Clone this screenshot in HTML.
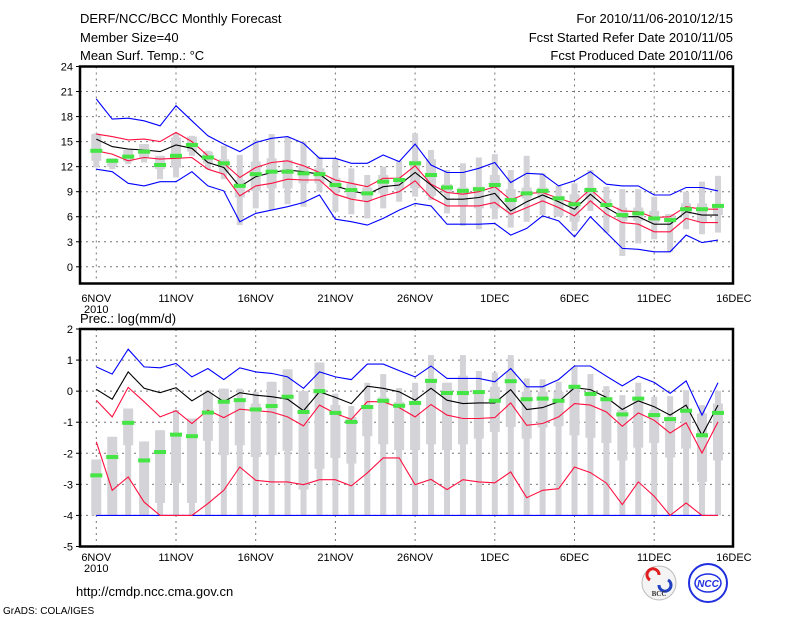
<!DOCTYPE html>
<html><head><meta charset="utf-8"><style>
body{margin:0;background:#fff;}
svg{display:block;font-family:"Liberation Sans",sans-serif;}
</style></head><body>
<svg id="chart" width="800" height="618" viewBox="0 0 800 618" xmlns="http://www.w3.org/2000/svg">
<rect width="800" height="618" fill="#fff"/>
<g font-size="13" fill="#000">
<text x="80" y="23">DERF/NCC/BCC Monthly Forecast</text>
<text x="80" y="42">Member Size=40</text>
<text x="80" y="60">Mean Surf. Temp.: °C</text>
<text x="733" y="23" text-anchor="end">For 2010/11/06-2010/12/15</text>
<text x="733" y="42" text-anchor="end">Fcst Started Refer Date 2010/11/05</text>
<text x="733" y="60" text-anchor="end">Fcst Produced Date 2010/11/06</text>
<text x="80" y="323">Prec.: log(mm/d)</text>
<text x="76" y="596">http://cmdp.ncc.cma.gov.cn</text>
<text x="3" y="614" font-size="10">GrADS: COLA/IGES</text>
</g>
<g id="top"></g>
<g id="bot"></g>
<g>
<circle cx="659" cy="583" r="17" fill="#f4f4f4" stroke="#bbb"/>
<path d="M650 580 a6 6 0 1 1 9 -5" fill="none" stroke="#e02020" stroke-width="3"/>
<path d="M668 580 a6 6 0 1 1 -9 5" fill="none" stroke="#2040c0" stroke-width="3"/>
<text x="659" y="596" font-size="7" text-anchor="middle" font-family="Liberation Serif" font-weight="bold" fill="#333">BCC</text>
</g>
<g>
<circle cx="708" cy="583" r="19" fill="#fff" stroke="#2030e0" stroke-width="2"/>
<ellipse cx="708" cy="583" rx="13" ry="9" fill="none" stroke="#2030e0" stroke-width="1.5"/>
<text x="708" y="587" font-size="10" text-anchor="middle" font-style="italic" font-weight="bold" fill="#2030e0">NCC</text>
</g>
</svg>
<script>
// ---- temperature data (day 0 = 6NOV) ----
const tBlueMax=[20.1,17.7,17.8,17.5,16.9,19.3,17.5,15.7,14.7,13.8,14.9,15.4,15.6,14.8,13.0,13.0,12.4,12.4,13.4,12.6,14.7,12.2,11.3,11.3,11.8,12.5,10.1,11.2,11.1,9.7,10.3,11.4,9.9,9.7,9.7,8.6,8.6,9.5,9.5,9.1];
const tBlueMin=[11.7,11.4,10.0,9.7,10.2,10.2,11.4,9.7,9.1,5.4,6.4,6.8,7.2,7.7,8.6,5.7,5.4,5.0,5.8,6.8,7.6,7.3,5.1,5.1,5.1,5.2,3.8,4.6,6.1,5.5,3.6,6.0,4.1,2.2,2.1,1.8,1.8,3.8,2.9,3.2];
const tRedUp=[15.9,15.6,15.2,15.3,15.0,16.1,15.0,13.3,12.4,10.7,11.9,12.5,12.7,12.1,11.3,10.4,10.0,9.6,10.6,10.6,12.1,9.9,8.9,8.7,9.0,9.6,8.0,8.8,8.9,8.2,7.6,9.3,7.6,6.7,6.6,5.9,6.0,7.2,6.9,6.9];
const tRedLo=[13.9,13.5,12.7,13.1,12.9,13.0,13.1,11.7,11.1,8.5,9.7,10.0,10.5,10.4,10.4,8.7,8.1,7.8,8.5,9.0,10.3,8.3,7.3,7.3,7.3,7.7,6.3,7.1,7.9,7.1,6.1,7.9,6.3,5.3,5.1,4.2,4.2,5.8,5.3,5.3];
const tMean=[15.3,14.4,14.1,14.0,13.8,14.6,14.2,12.5,11.9,9.6,10.8,11.3,11.6,11.4,11.1,9.7,9.1,8.7,9.6,9.8,11.3,9.8,8.1,8.1,8.3,8.8,6.7,7.8,8.6,7.8,6.9,8.7,7.1,6.0,6.0,5.1,5.1,6.6,6.2,6.2];
const tGreen=[13.9,12.7,13.2,13.8,12.2,13.3,14.6,13.1,12.4,9.7,11.1,11.4,11.4,11.2,11.1,9.8,9.2,8.8,10.2,10.4,12.4,11.0,9.5,9.1,9.3,9.8,8.0,8.8,9.1,8.2,7.5,9.2,7.4,6.2,6.4,5.8,5.6,6.9,6.9,7.3];
const tBoxLo=[11.9,11.7,12.3,12.5,10.5,10.7,13.3,11.7,10.5,5.0,7.0,6.8,7.5,7.2,9.0,6.6,6.3,5.8,7.0,7.8,8.4,8.0,6.4,4.9,4.5,5.7,4.7,5.4,6.2,6.0,4.3,6.7,4.1,1.3,2.8,3.3,1.8,4.5,3.9,4.1];
const tBoxQ1=[12.7,12.0,12.6,13.0,11.7,11.9,13.8,12.4,11.3,8.3,9.1,9.4,9.4,10.0,10.0,9.0,8.2,8.0,8.8,9.2,9.4,8.5,8.8,7.3,7.0,7.0,6.5,8.2,8.2,6.1,5.4,8.1,7.3,5.5,5.5,5.3,5.3,6.3,5.3,6.2];
const tBoxQ3=[15.9,13.0,14.0,14.7,13.3,15.5,15.6,13.8,12.9,10.4,12.6,13.0,12.8,12.1,11.8,10.6,10.0,9.5,11.0,10.6,12.7,12.9,9.9,9.5,9.6,11.0,9.3,9.5,9.5,8.5,8.7,9.5,8.1,7.1,7.1,6.7,6.3,7.6,7.6,7.3];
const tBoxHi=[16.0,13.0,14.0,14.7,13.3,15.9,15.7,13.9,14.5,13.4,15.2,15.9,15.5,15.0,13.2,13.0,11.8,11.0,12.0,12.7,16.0,14.0,11.6,12.4,13.1,13.5,11.6,13.3,11.2,9.7,10.0,11.6,9.6,9.3,9.3,8.4,6.3,9.0,10.2,10.9];
const tTicks=[0,3,6,9,12,15,18,21,24];
// ---- precipitation data ----
const pBlueMax=[0.78,0.55,1.35,0.78,0.75,0.89,0.46,0.73,0.37,0.75,0.62,0.57,0.46,0.09,0.62,0.46,0.37,0.87,0.87,0.66,0.46,0.81,0.41,0.41,0.41,0.30,0.73,0.14,0.14,0.37,0.81,0.81,0.48,0.17,0.48,0.28,-0.07,0.33,-0.77,0.27];
const pBlueMin=[-4,-4,-4,-4,-4,-4,-4,-4,-4,-4,-4,-4,-4,-4,-4,-4,-4,-4,-4,-4,-4,-4,-4,-4,-4,-4,-4,-4,-4,-4,-4,-4,-4,-4,-4,-4,-4,-4,-4,-4];
const pRedUp=[-0.29,-0.83,0.12,-0.34,-0.83,-0.63,-1.04,-0.61,-0.85,-0.58,-0.63,-0.67,-0.83,-1.12,-0.45,-0.72,-0.91,-0.34,-0.34,-0.53,-0.83,-0.43,-0.77,-0.88,-0.88,-0.85,-0.38,-1.10,-1.04,-0.83,-0.40,-0.45,-0.67,-1.13,-0.70,-0.94,-1.35,-1.02,-1.99,-0.99];
const pRedLo=[-1.63,-3.19,-2.76,-3.57,-4,-4,-4,-3.62,-3.19,-2.44,-2.87,-2.92,-2.92,-3.01,-2.85,-2.85,-3.05,-2.63,-2.15,-2.15,-3.01,-2.84,-3.17,-2.85,-2.92,-2.95,-2.60,-3.43,-3.19,-3.14,-2.44,-2.62,-2.96,-3.65,-2.92,-3.38,-4,-3.60,-4,-4];
const pMean=[0.06,-0.26,0.62,0.09,-0.05,0.11,-0.31,0,-0.34,-0.05,-0.13,-0.18,-0.26,-0.63,-0.02,-0.20,-0.40,0.16,0.09,-0.02,-0.29,0.09,-0.29,-0.40,-0.38,-0.38,0.05,-0.59,-0.53,-0.34,0.11,0.05,-0.20,-0.59,-0.31,-0.50,-0.77,-0.45,-1.42,-0.45];
const pGreen=[-2.71,-2.12,-1.02,-2.23,-1.96,-1.40,-1.45,-0.69,-0.34,-0.29,-0.59,-0.48,-0.18,-0.67,0,-0.70,-0.99,-0.51,-0.31,-0.47,-0.38,0.33,-0.06,-0.06,-0.03,-0.31,0.32,-0.26,-0.24,-0.31,0.14,-0.09,-0.26,-0.75,-0.24,-0.77,-0.90,-0.63,-1.42,-0.70];
const pBoxLo=[-4,-4,-4,-4,-4,-4,-4,-4,-4,-4,-4,-4,-4,-4,-4,-4,-4,-4,-4,-4,-4,-4,-4,-4,-4,-4,-4,-4,-4,-4,-4,-4,-4,-4,-4,-4,-4,-4,-4,-4];
const pBoxQ1=[-4,-4,-1.74,-4,-3.6,-2.96,-3.6,-1.6,-2.06,-1.74,-2.12,-2.06,-1.92,-3.17,-2.5,-2.15,-2.33,-1.45,-1.71,-1.9,-1.9,-1.71,-1.9,-1.71,-1.53,-1.31,-1.15,-1.53,-1.17,-1.13,-1.42,-1.5,-1.67,-2.23,-1.82,-1.67,-2.14,-1.85,-2.92,-2.23];
const pBoxQ3=[-2.2,-1.47,-0.56,-1.62,-1.26,-1.42,-0.88,-0.05,0.08,-0.3,-0.4,0.3,0.7,0,0.92,-0.45,-0.83,-0.45,-0.2,-0.35,-0.35,0.4,0.27,0.5,0.03,0.14,0.63,-0.02,-0.02,-0.02,0.2,-0.06,-0.27,-0.6,-0.22,-0.6,-0.83,-0.6,-0.72,-0.4];
const pBoxHi=[-2.2,-1.47,-0.56,-1.62,-1.26,-0.6,-0.88,0.03,0.08,0.08,-0.02,0.3,0.7,0,0.92,-0.08,-0.48,0.27,0.55,0.1,0.27,1.16,0.27,1.16,0.65,0.6,1.16,0.41,0.38,0.3,0.78,0.55,0.16,-0.13,0.27,-0.18,-0.16,0.03,-0.45,0.01];
const pTicks=[-5,-4,-3,-2,-1,0,1,2];
const xLabels=["6NOV","11NOV","16NOV","21NOV","26NOV","1DEC","6DEC","11DEC","16DEC"];

const NS="http://www.w3.org/2000/svg";
const X0=96.3, DX=15.94, LEFT=80, RIGHT=733;
function xs(d){return X0+d*DX;}
function mk(parent,tag,attrs){const e=document.createElementNS(NS,tag);for(const k in attrs)e.setAttribute(k,attrs[k]);parent.appendChild(e);return e;}

function panel(g,top,bottom,vmin,vmax,ticks,series,boxes,green,labY,tickName){
  const ys=v=>bottom-(v-vmin)/(vmax-vmin)*(bottom-top);
  // grid
  ticks.forEach(t=>{
    const y=ys(t);
    if(t>vmin&&t<vmax){const l=mk(g,'line',{x1:LEFT,x2:RIGHT,y1:y,y2:y,stroke:'#777','stroke-dasharray':'2,4','stroke-width':1});
      
      }
    const tl=mk(g,'line',{x1:LEFT-4,x2:LEFT,y1:y,y2:y,stroke:'#000'});
    
    
    const tx=mk(g,'text',{x:LEFT-7,y:y+4,'font-size':11,'text-anchor':'end'});
    tx.textContent=String(t);
    
    
  });
  xLabels.forEach((s,i)=>{
    const x=xs(i*5);
    if(i<xLabels.length-1){const l=mk(g,'line',{x1:x,x2:x,y1:top,y2:bottom,stroke:'#777','stroke-dasharray':'2,4'});
      
      }
    const t=mk(g,'text',{x:x,y:labY,'font-size':11,'text-anchor':'middle'});
    t.textContent=s;
    
    
  });
  const yr=mk(g,'text',{x:xs(0),y:labY+11,'font-size':11,'text-anchor':'middle'});
  yr.textContent='2010';
  
  
  // boxes
  const [lo,q1,q3,hi]=boxes;
  for(let d=0;d<lo.length;d++){
    const x=xs(d);
    const w1=mk(g,'rect',{x:x-3,y:ys(hi[d]),width:6,height:Math.max(0,ys(lo[d])-ys(hi[d])),fill:'#d3d3d8'});
    
    
    const b=mk(g,'rect',{x:x-5,y:ys(q3[d]),width:10,height:Math.max(0,ys(q1[d])-ys(q3[d])),fill:'#d3d3d8'});
    
    
  }
  // lines
  series.forEach(([arr,col,name])=>{
    const p=mk(g,'polyline',{points:arr.map((v,d)=>xs(d).toFixed(1)+','+ys(v).toFixed(1)).join(' '),fill:'none',stroke:col,'stroke-width':1.1});
    
    
  });
  green.forEach((v,d)=>{
    const r=mk(g,'rect',{x:xs(d)-6,y:ys(v)-2,width:12,height:4,fill:'#44e544'});
    
    
  });
  const fr=mk(g,'rect',{x:LEFT,y:top,width:RIGHT-LEFT,height:bottom-top,fill:'none',stroke:'#000','stroke-width':2.5});
  
  
}
panel(document.getElementById('top'),66.5,283.5,-2,24,tTicks,
  [[tBlueMax,'#0000ff','blue-max-line'],[tBlueMin,'#0000ff','blue-min-line'],[tRedUp,'#ff1040','red-upper-line'],[tRedLo,'#ff1040','red-lower-line'],[tMean,'#000','mean-line']],
  [tBoxLo,tBoxQ1,tBoxQ3,tBoxHi],tGreen,302,'temp-y-tick-label');
panel(document.getElementById('bot'),329,546.5,-5,2,pTicks,
  [[pBlueMax,'#0000ff','blue-max-line'],[pBlueMin,'#0000ff','blue-min-line'],[pRedUp,'#ff1040','red-upper-line'],[pRedLo,'#ff1040','red-lower-line'],[pMean,'#000','mean-line']],
  [pBoxLo,pBoxQ1,pBoxQ3,pBoxHi],pGreen,561,'precip-y-tick-label');
</script>
</body></html>
